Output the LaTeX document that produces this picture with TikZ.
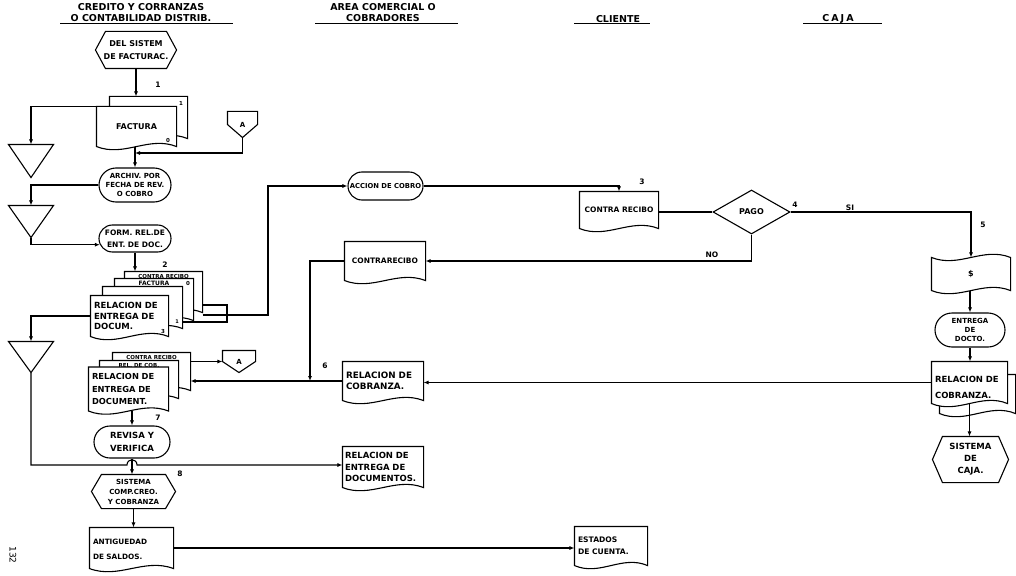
\documentclass[tikz,border=0pt]{standalone}
\usepackage{fontspec}
\setmainfont{DejaVu Sans}
\usetikzlibrary{shapes.geometric,shapes.misc,arrows.meta,calc}
\makeatletter
\def\myrectinherit{%
  \inheritsavedanchors[from=rectangle]%
  \inheritanchorborder[from=rectangle]%
  \inheritanchor[from=rectangle]{center}%
  \inheritanchor[from=rectangle]{text}%
  \inheritanchor[from=rectangle]{mid}%
  \inheritanchor[from=rectangle]{base}%
  \inheritanchor[from=rectangle]{north}%
  \inheritanchor[from=rectangle]{south}%
  \inheritanchor[from=rectangle]{east}%
  \inheritanchor[from=rectangle]{west}%
  \inheritanchor[from=rectangle]{north east}%
  \inheritanchor[from=rectangle]{north west}%
  \inheritanchor[from=rectangle]{south east}%
  \inheritanchor[from=rectangle]{south west}%
}
\def\mybox{%
  \southwest\edef\bxa{\the\pgf@x}\edef\bya{\the\pgf@y}%
  \northeast\edef\bxb{\the\pgf@x}\edef\byb{\the\pgf@y}%
  \pgfmathsetlengthmacro\bxm{((\bxa)+(\bxb))/2}%
  \pgfmathsetlengthmacro\bym{((\bya)+(\byb))/2}%
  \pgfmathsetlengthmacro\bxl{(\bxa)+0.35*((\bxb)-(\bxa))}%
  \pgfmathsetlengthmacro\bxr{(\bxa)+0.65*((\bxb)-(\bxa))}%
  \pgfmathsetlengthmacro\byal{(\bya)-11pt}%
  \pgfmathsetlengthmacro\byah{(\bya)+11pt}%
  \pgfmathsetlengthmacro\bybl{(\byb)-11pt}%
  \pgfmathsetlengthmacro\bybh{(\byb)+11pt}%
}
\pgfdeclareshape{docshape}{\myrectinherit
  \backgroundpath{\mybox
    \pgfpathmoveto{\pgfpoint{\bxb}{\bya}}%
    \pgfpathlineto{\pgfpoint{\bxb}{\byb}}%
    \pgfpathlineto{\pgfpoint{\bxa}{\byb}}%
    \pgfpathlineto{\pgfpoint{\bxa}{\bya}}%
    \pgfpathcurveto{\pgfpoint{\bxl}{\byal}}{\pgfpoint{\bxr}{\byah}}{\pgfpoint{\bxb}{\bya}}%
    \pgfpathclose}}
\pgfdeclareshape{hexa}{\myrectinherit
  \backgroundpath{\mybox
    \pgfmathsetlengthmacro\bxc{(\bxa)+10pt}%
    \pgfmathsetlengthmacro\bxd{(\bxb)-10pt}%
    \pgfpathmoveto{\pgfpoint{\bxa}{\bym}}%
    \pgfpathlineto{\pgfpoint{\bxc}{\byb}}%
    \pgfpathlineto{\pgfpoint{\bxd}{\byb}}%
    \pgfpathlineto{\pgfpoint{\bxb}{\bym}}%
    \pgfpathlineto{\pgfpoint{\bxd}{\bya}}%
    \pgfpathlineto{\pgfpoint{\bxc}{\bya}}%
    \pgfpathclose}}
\pgfdeclareshape{offpage}{\myrectinherit
  \backgroundpath{\mybox
    \pgfpathmoveto{\pgfpoint{\bxa}{\byb}}%
    \pgfpathlineto{\pgfpoint{\bxb}{\byb}}%
    \pgfpathlineto{\pgfpoint{\bxb}{\bym}}%
    \pgfpathlineto{\pgfpoint{\bxm}{\bya}}%
    \pgfpathlineto{\pgfpoint{\bxa}{\bym}}%
    \pgfpathclose}}
\pgfdeclareshape{invtri}{\myrectinherit
  \backgroundpath{\mybox
    \pgfpathmoveto{\pgfpoint{\bxa}{\byb}}%
    \pgfpathlineto{\pgfpoint{\bxb}{\byb}}%
    \pgfpathlineto{\pgfpoint{\bxm}{\bya}}%
    \pgfpathclose}}
\pgfdeclareshape{tapeshape}{\myrectinherit
  \backgroundpath{\mybox
    \pgfpathmoveto{\pgfpoint{\bxa}{\byb}}%
    \pgfpathcurveto{\pgfpoint{\bxl}{\bybl}}{\pgfpoint{\bxr}{\bybh}}{\pgfpoint{\bxb}{\byb}}%
    \pgfpathlineto{\pgfpoint{\bxb}{\bya}}%
    \pgfpathcurveto{\pgfpoint{\bxr}{\byah}}{\pgfpoint{\bxl}{\byal}}{\pgfpoint{\bxa}{\bya}}%
    \pgfpathclose}}
\makeatother
\tikzset{
  ln/.style={line width=1.1pt},
  arr/.style={line width=1.1pt, -{Latex[length=5pt,width=4pt]}},
  ul/.style={line width=1pt},
  fs/.style 2 args={font=\bfseries\fontsize{#1}{#2}\selectfont},
  sz/.style 2 args={minimum width=#1, minimum height=#2},
  base/.style={draw, line width=1.1pt, fill=white, inner sep=2pt, align=center, fs={7.5}{9}},
  docn/.style={base, shape=docshape},
  hexn/.style={base, shape=hexa},
  term/.style={base, rounded rectangle},
  offp/.style={base, shape=offpage},
  tri/.style={base, shape=invtri},
  tapen/.style={base, shape=tapeshape},
  lab/.style={inner sep=0pt, fs={7.5}{8}},
  hdr/.style={inner sep=0pt, align=center, fs={9.5}{11}},
}
\begin{document}
\begin{tikzpicture}[x=1pt,y=-1pt]
\path[use as bounding box, fill=white] (0,0) rectangle (1016,575);

% headers
\node[hdr] (h1) at (141,12.5) {CREDITO Y CORRANZAS\\O CONTABILIDAD DISTRIB.};
\node[hdr] (h2) at (383,12.5) {AREA COMERCIAL O\\COBRADORES};
\node[hdr] (h3) at (618,19) {CLIENTE};
\node[hdr] (h4) at (838,19) {C\kern2pt A\kern2pt J\kern2pt A};
\draw[ul] (60,24) -- (233,24);
\draw[ul] (315,24) -- (458,24);
\draw[ul] (574,24) -- (650,24);
\draw[ul] (803,24) -- (882,24);

% left column
\node[hexn, fs={8}{13}, sz={80}{36}] (hexF) at (136,50) {DEL SISTEM\\DE FACTURAC.};
\node[docn, sz={77}{41}] (fact2) at (148.5,117.5) {};
\node[docn, fs={8}{9}, sz={79}{39}] (fact1) at (136.5,126.5) {FACTURA};
\node[offp, fs={7}{8}, sz={29}{25}] (offA1) at (242.5,124.5) {A};
\node[tri, sz={44}{32}] (tri1) at (31,161) {};
\node[term, fs={7}{9}, sz={76}{34}] (arch) at (135,185) {ARCHIV. POR\\FECHA DE REV.\\O COBRO};
\node[tri, sz={44}{31}] (tri2) at (31,221.5) {};
\node[term, fs={7.5}{12}, sz={76}{27}] (form) at (135,238.5) {FORM. REL.DE\\ENT. DE DOC.};

\node[docn, fs={5.5}{6}, sz={77}{40}, text height=5, text depth=33, inner ysep=1] (s1d) at (163.5,292) {CONTRA RECIBO};
\node[docn, fs={6}{7}, sz={78}{41}, text height=5, text depth=34, inner ysep=1] (s1c) at (154,299.5) {FACTURA};
\node[docn, sz={79}{41}] (s1b) at (142.5,307.5) {};
\node[docn, fs={8.5}{10.5}, sz={77}{40}, align=left, text width=71, inner xsep=3] (s1a) at (129.5,316) {RELACION DE\\ENTREGA DE\\DOCUM.};
\node[tri, sz={44}{30}] (tri3) at (31,357) {};

\node[docn, fs={5.5}{6}, sz={77}{37}, text height=5, text depth=30, inner ysep=1] (s2c) at (151.5,371.5) {CONTRA RECIBO};
\node[docn, fs={5.5}{6}, sz={78}{37}, text height=5, text depth=30, inner ysep=1] (s2b) at (139,379.5) {REL. DE COB.};
\node[docn, fs={8.3}{12.2}, sz={79}{43}, align=left, text width=73, inner xsep=3] (s2a) at (128.5,389) {RELACION DE\\ENTREGA DE\\DOCUMENT.};
\node[offp, fs={7}{8}, sz={32}{21}] (offA2) at (239,361.5) {A};

\node[term, fs={8.5}{13}, sz={80}{32}] (rev) at (132,442) {REVISA Y\\VERIFICA};
\node[hexn, fs={7}{10}, sz={83}{33}] (sys) at (133.5,491.5) {SISTEMA\\COMP.CREO.\\Y COBRANZA};
\node[docn, fs={7.3}{15}, sz={83}{40}, align=left, text width=77, inner xsep=3] (ant) at (131.5,548) {\rule{0pt}{9pt}ANTIGUEDAD\\DE SALDOS.};

% middle column
\node[term, fs={6.8}{8}, sz={79}{28}] (acc) at (385.5,186) {ACCION DE COBRO};
\node[docn, fs={7.5}{9}, sz={80}{38}] (cont) at (385,261) {CONTRARECIBO};
\node[docn, fs={8.8}{10.5}, sz={80}{38}, align=left, text width=74, inner xsep=3] (relm) at (383,381) {RELACION DE\\COBRANZA.};
\node[docn, fs={8.5}{11.5}, sz={80}{40}, align=left, text width=76, inner xsep=2] (reld) at (383,467) {RELACION DE\\ENTREGA DE\\DOCUMENTOS.};

% cliente
\node[docn, fs={7.5}{9}, sz={78}{36}] (cr) at (619,210) {CONTRA RECIBO};
\node[base, diamond, fs={8}{9}, aspect=1.75, sz={77}{44}, inner sep=0pt] (pago) at (751.5,212) {PAGO};
\node[docn, fs={7.6}{12}, sz={72}{38}, align=left, text width=66, inner xsep=3] (est) at (611,546) {ESTADOS\\DE CUENTA.};

% caja
\node[tapen, fs={8}{9}, sz={78}{32}] (tape) at (971,274) {\$};
\node[term, fs={7}{9}, sz={74}{34}] (ent) at (970,330) {ENTREGA\\DE\\DOCTO.};
\node[docn, sz={75}{38}] (relc2) at (977.5,394) {};
\node[docn, fs={8.5}{16}, sz={75}{41}, align=left, text width=69, inner xsep=3] (relc) at (969.5,382.5) {\rule{0pt}{16pt}RELACION DE\\COBRANZA.};
\node[hexn, fs={8.5}{12}, sz={75}{45}] (sysc) at (970.5,459.5) {SISTEMA\\DE\\CAJA.};

% connectors
\coordinate (j1) at (135,153);
\coordinate (c1) at (268,315);
\coordinate (hp1) at (127,465);
\coordinate (hp2) at (137,465);
\coordinate (j2) at (310,381);

\draw[arr] (hexF.south) -- (hexF.south |- fact2.north);
\draw[arr] (fact1.north west) -| (tri1.north);
\draw[arr] (arch.north |- fact1.south) -- (arch.north);
\draw[arr] (offA1.south) |- (j1);
\draw[arr] (arch.west) -| (tri2.north);
\draw[arr] (tri2.south) |- (form.190);
\draw[arr] (form.south) -- (form.south |- s1d.north);
\draw[ln] (s1d.east |- 0,305) -- (227,305) -- (227,322) -- (s1b.east |- 0,322);
\draw[arr] (s1d.east |- c1) -- (c1) |- (acc.west);
\draw[arr] (s1a.west) -| (tri3.north);
\draw[arr] (tri3.south) |- (hp1) .. controls (127,458) and (137,458) .. (hp2) -- (hp2 -| reld.west);
\draw[arr] (s2c.east |- offA2.west) -- (offA2.west);
\draw[arr] (rev.north |- s2a.south) -- (rev.north);
\draw[arr] (rev.south) -- (rev.south |- sys.north);
\draw[arr] (sys.south) -- (sys.south |- ant.north);
\draw[arr] (ant.east) -- (ant.east -| est.west);
\draw[arr] (acc.east) -| (cr.north);
\draw[ln] (cr.east |- pago.west) -- (pago.west);
\draw[arr] (pago.east) -| (tape.north);
\draw[arr] (pago.south) |- (cont.east);
\draw[arr] (cont.west) -| (j2);
\draw[arr] (relc.west) -- (relc.west -| relm.east);
\draw[arr] (relm.west) -- (relm.west -| s2c.east);
\draw[arr] (ent.north |- tape.south) -- (ent.north);
\draw[arr] (ent.south) -- (ent.south |- relc.north);
\draw[arr] (relc.south) -- (relc.south |- sysc.north);

% labels
\node[lab] (n1) at (158,85) {1};
\node[lab, fs={5.5}{6}] (n1b) at (181,103) {1};
\node[lab, fs={5.5}{6}] (n0a) at (168,140) {0};
\node[lab] (n2) at (165,265) {2};
\node[lab, fs={5.5}{6}] (n0b) at (188,283) {0};
\node[lab, fs={5}{6}] (n1c) at (177,322) {1};
\node[lab, fs={5.5}{6}] (n3a) at (163,331) {3};
\node[lab] (n6) at (325,366) {6};
\node[lab] (n7) at (158,418) {7};
\node[lab] (n8) at (180,474) {8};
\node[lab] (n3) at (642,182) {3};
\node[lab] (n4) at (795,205) {4};
\node[lab] (nsi) at (850,208) {SI};
\node[lab] (n5) at (983,225) {5};
\node[lab] (nno) at (712,255) {NO};
\node[inner sep=0pt, font=\fontsize{9}{10}\selectfont, rotate=-90] (pg) at (13,555) {132};
\end{tikzpicture}
\end{document}
